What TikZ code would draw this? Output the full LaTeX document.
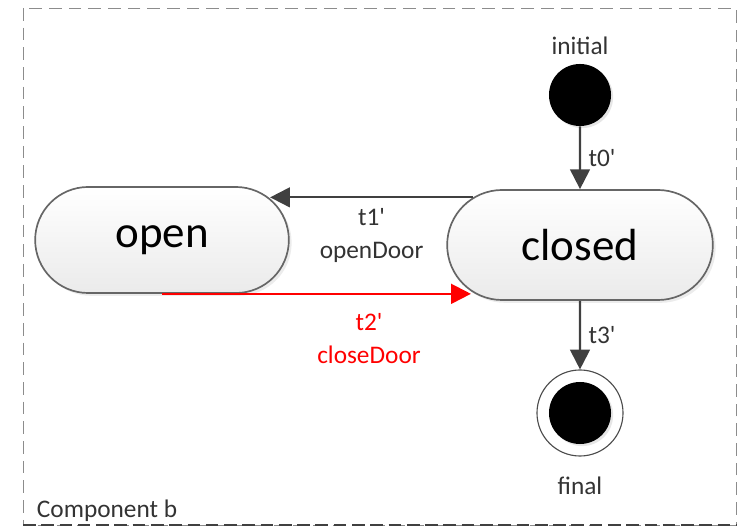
\documentclass[tikz,border=0pt]{standalone}
\usepackage{fontspec}
\setmainfont{Carlito}
\usetikzlibrary{shapes.misc,arrows.meta,shadows}

\begin{document}
\begin{tikzpicture}[x=0.025cm,y=-0.025cm,>={Triangle[length=14pt,width=14pt]}]
    \tikzstyle{state}=[rounded rectangle,draw=black!60,line width=1.2pt,top color=white,bottom color=black!8,font=\fontsize{32}{38}\selectfont,drop shadow={opacity=0.15,shadow xshift=2pt,shadow yshift=-2pt}]
    \tikzstyle{dot}=[circle,fill=black,minimum size=1.55cm,inner sep=0pt,drop shadow={opacity=0.2,shadow xshift=1.5pt,shadow yshift=-1.5pt}]
    \tikzstyle{trans}=[->,draw=black!75,line width=1.5pt]
    \tikzstyle{lbl}=[font=\fontsize{18}{23}\selectfont,text=black!80,align=center]
    \useasboundingbox (0,0) rectangle (738,530);

    % component frame
    \draw[black!45,line width=0.6pt,dash pattern=on 9pt off 5pt] (23,8) rectangle (736,525);
    \draw[black!75,line width=1.6pt,dash pattern=on 9pt off 4pt] (23,525) -- (736,525);
    \node[lbl,anchor=base west] (comp) at (32,518) {Component b};

    \foreach \name/\x/\y/\w/\h in {open/162/240/6.575/2.65, closed/580/245/6.875/2.75}
        \node[state,minimum width=\w cm,minimum height=\h cm] (\name) at (\x,\y) {\name};

    \node[dot,label={[lbl,label distance=3pt]above:initial}] (init) at (580,95) {};
    \node[circle,draw=black!70,line width=0.8pt,minimum size=2.15cm,label={[lbl,label distance=11pt]below:final}] (final) at (580,413) {};
    \node[dot] (final-in) at (final) {};

    \draw[trans] (init) -- (closed) node[lbl,midway,right=2pt] {t0\textquotesingle};
    \draw[trans] (closed.156) -- (open.21 |- closed.156) node[lbl,midway,below=4pt] {t1\textquotesingle\\openDoor};
    \draw[trans,draw=red] (open.south) -- (closed.203 |- open.south) node[lbl,text=red,pos=0.67,below=10pt] {t2\textquotesingle\\closeDoor};
    \draw[trans] (closed) -- (final) node[lbl,midway,right=2pt] {t3\textquotesingle};
    % \draw[trans] (open) -- (final);
\end{tikzpicture}
\end{document}
